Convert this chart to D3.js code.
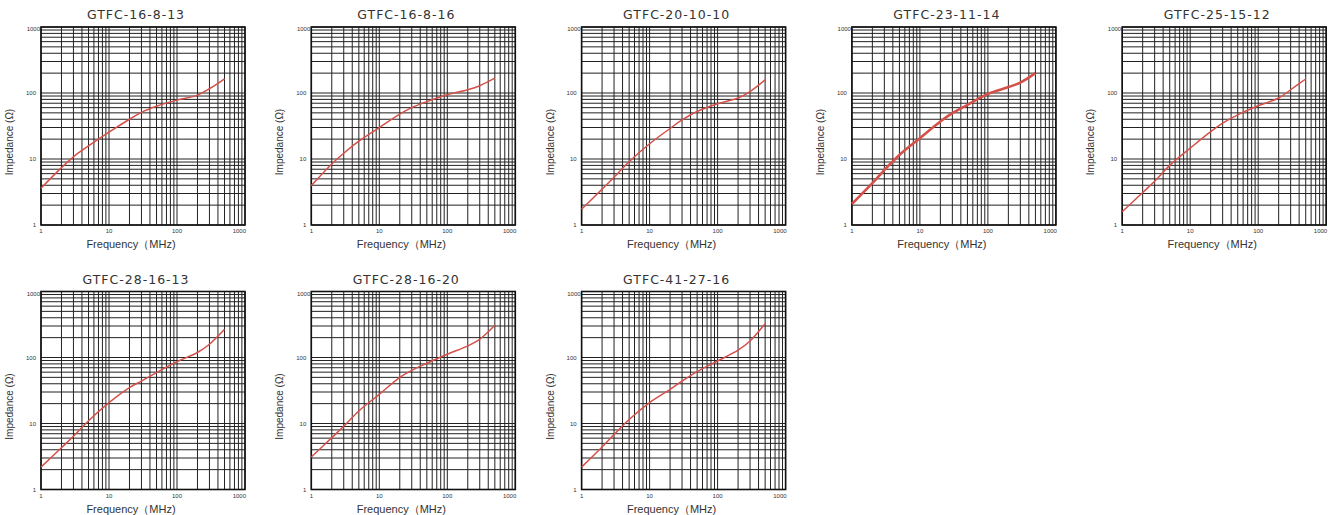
<!DOCTYPE html>
<html>
<head>
<meta charset="utf-8">
<title>Impedance vs Frequency</title>
<script src="https://d3js.org/d3.v7.min.js"></script>
<style>
  * { margin: 0; padding: 0; }
  body { background: #fff; }
  svg { display: block; }
  .tick-label { font-family: "Liberation Sans", Arial, sans-serif; font-size: 6px; fill: #333; }
  .title { font-family: "DejaVu Sans", sans-serif; font-size: 12.5px; fill: #333; letter-spacing: 1px; }
  .x-label { font-family: "Liberation Sans", Arial, sans-serif; font-size: 11px; fill: #333; }
  .y-label { font-family: "Liberation Sans", Arial, sans-serif; font-size: 10px; fill: #333; }
</style>
</head>
<body>
<div id="chart"></div>
<script>
// part numbers, one panel each
const titles = ["GTFC-16-8-13", "GTFC-16-8-16", "GTFC-20-10-10", "GTFC-23-11-14", "GTFC-25-15-12",
                "GTFC-28-16-13", "GTFC-28-16-20", "GTFC-41-27-16"];

// frequency points (MHz) the curves were read at
const freq = [1, 2, 3, 5, 10, 20, 30, 50, 100, 200, 300, 500];

// impedance (ohm)
const z16_8_13  = [3.6, 7.4, 10.8, 15.8, 25.5, 40, 51, 63, 78, 93, 116, 164];
const z16_8_16  = [3.95, 8.4, 12.2, 18.6, 30, 48, 60, 74, 94, 112, 129, 168];
const z20_10_10 = [1.73, 3.5, 5.3, 9.1, 17, 29, 39, 52.5, 68.6, 84, 105, 158];
const z23_11_14 = [2.08, 4.3, 6.8, 11.5, 20.7, 37, 49.5, 66, 97, 123, 144, 200];
const z25_15_12 = [1.59, 3.1, 4.6, 8.0, 14.6, 26, 35, 46.7, 64, 84, 112, 163];
const z28_16_13 = [2.18, 4.3, 6.4, 11, 20.7, 35, 44, 59, 86.5, 119, 159, 268];
const z28_16_20 = [3.1, 6.1, 9.1, 15.5, 27.7, 50, 64, 81.7, 112, 150, 189, 308];
const z41_27_16 = [2.18, 4.4, 6.8, 11.5, 20.7, 32.9, 44, 61, 88.6, 129, 178, 326];

const series = [z16_8_13, z16_8_16, z20_10_10, z23_11_14, z25_15_12, z28_16_13, z28_16_20, z41_27_16];

const xTicks = [1, 10, 100, 1000];
const yTicks = [1, 10, 100, 1000];

const W = 1328, H = 515;
const plotW = 204, plotH = 198;
const cols = 5;
const colStep = 270.3, rowStep = 264.5;
const left0 = 41, top0 = 27;

const svg = d3.select("#chart").append("svg")
  .attr("width", W).attr("height", H);

// minor + major grid values: 1..9 per decade
const gridVals = [];
for (let d = 0; d < 3; d++) {
  for (let m = 1; m <= 9; m++) gridVals.push(m * Math.pow(10, d));
}
gridVals.push(1000);

series.forEach((vals, i) => {
  const col = i % cols, row = Math.floor(i / cols);
  const ox = left0 + col * colStep, oy = top0 + row * rowStep;

  const x = d3.scaleLog().domain([1, 1000]).range([0, plotW]);
  const y = d3.scaleLog().domain([1, 1000]).range([plotH, 0]);

  const g = svg.append("g").attr("transform", `translate(${ox},${oy})`);

  // grid
  g.selectAll(".vg").data(gridVals).join("line")
    .attr("x1", d => x(d)).attr("x2", d => x(d))
    .attr("y1", 0).attr("y2", plotH)
    .attr("stroke", "#222").attr("stroke-width", 1);
  g.selectAll(".hg").data(gridVals).join("line")
    .attr("y1", d => y(d)).attr("y2", d => y(d))
    .attr("x1", 0).attr("x2", plotW)
    .attr("stroke", "#222").attr("stroke-width", 1);

  // frame
  g.append("rect")
    .attr("width", plotW).attr("height", plotH)
    .attr("fill", "none").attr("stroke", "#111").attr("stroke-width", 1.6);

  // curve
  const line = d3.line()
    .x((d, k) => x(freq[k]))
    .y(d => y(d))
    .curve(d3.curveCatmullRom.alpha(0.5));
  g.append("path")
    .datum(vals)
    .attr("d", line)
    .attr("fill", "none")
    .attr("stroke", "#d6504a")
    .attr("stroke-width", i === 3 ? 2.6 : 1.5);

  // tick labels
  g.selectAll(".yl").data(yTicks).join("text")
    .attr("class", "tick-label")
    .attr("x", d => d === 1000 ? -1 : -5)
    .attr("y", d => d === 1000 ? y(d) + 4 : y(d) + 2)
    .attr("text-anchor", "end")
    .text(d => d);
  g.selectAll(".xl").data(xTicks).join("text")
    .attr("class", "tick-label")
    .attr("x", d => d === 1000 ? x(d) + 1 : x(d))
    .attr("y", plotH + 8)
    .attr("text-anchor", d => d === 1000 ? "end" : "middle")
    .text(d => d);

  // titles
  g.append("text").attr("class", "title")
    .attr("x", plotW / 2 - 7).attr("y", -8)
    .attr("text-anchor", "middle")
    .text(titles[i]);
  g.append("text").attr("class", "x-label")
    .attr("x", plotW / 2 - 12).attr("y", plotH + 23)
    .attr("text-anchor", "middle")
    .text("Frequency（MHz)");
  g.append("text").attr("class", "y-label")
    .attr("transform", `translate(-28,${plotH / 2 + 16}) rotate(-90)`)
    .attr("text-anchor", "middle")
    .text("Impedance (Ω)");
});
</script>
</body>
</html>
